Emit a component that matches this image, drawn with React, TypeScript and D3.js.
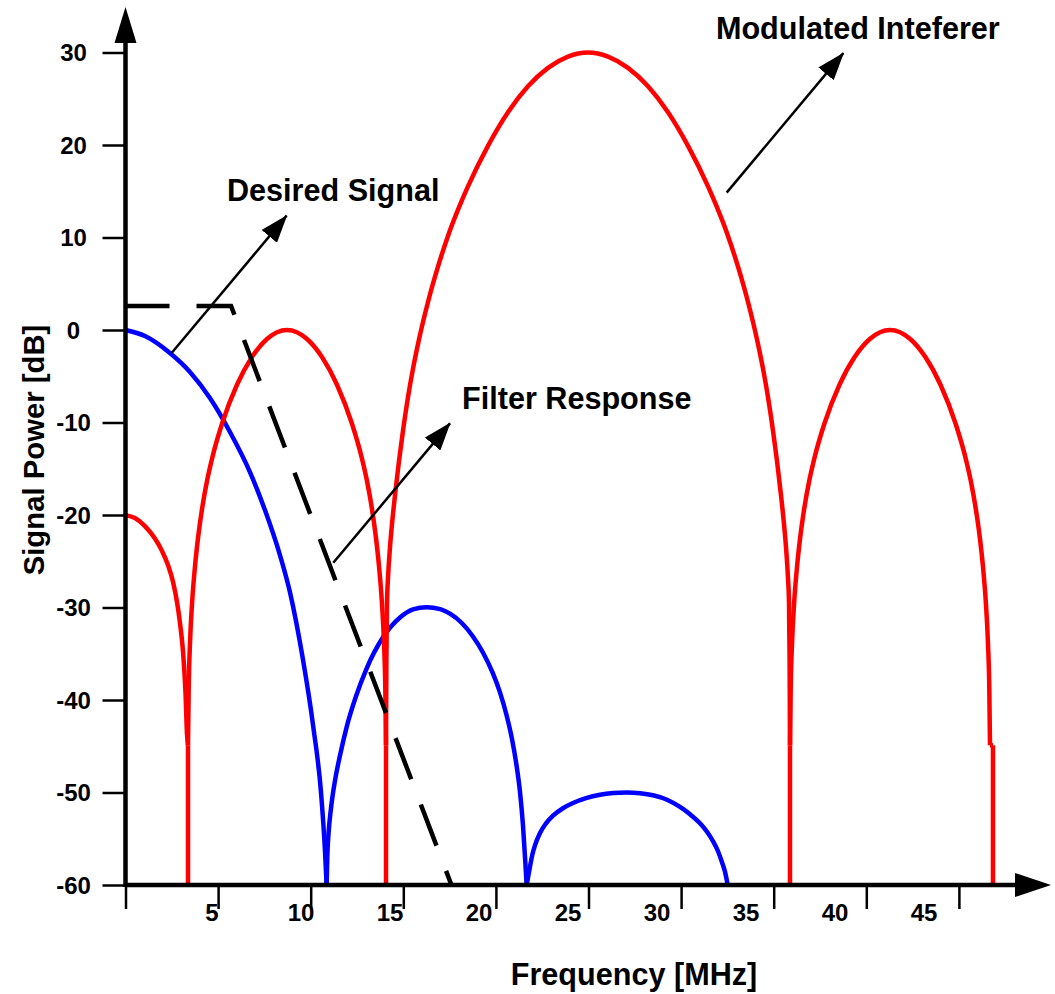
import React, { useEffect, useRef } from "react";
import * as d3 from "d3";

type Pt = [number, number];

// axis ticks
const freqTicks = [0, 5, 10, 15, 20, 25, 30, 35, 40, 45];
const freqLabels = [5, 10, 15, 20, 25, 30, 35, 40, 45];
const powerTicks = [30, 20, 10, 0, -10, -20, -30, -40, -50, -60];

// desired signal (blue), [MHz, dB] read per lobe
const desiredLobe0: Pt[] = [
  [0, 0], [1.05, -0.65], [2.4, -2.49], [3.48, -4.54], [4.56, -7.36], [5.64, -11.03],
  [6.72, -15.36], [7.53, -19.47], [8.34, -24.34], [8.88, -28.34], [9.57, -35.48],
  [10.14, -42.91], [10.56, -50.08], [10.77, -56.25], [10.86, -60],
];
const desiredLobe1: Pt[] = [
  [10.86, -60], [10.896, -56.99], [10.961, -54.51], [11.096, -51.7], [11.312, -48.71],
  [11.582, -46.0], [11.944, -42.9], [12.446, -39.6], [13.024, -36.57], [13.904, -33.22],
  [14.822, -31.09], [15.524, -30.21], [16.26, -29.96], [16.99, -30.18], [17.52, -30.67],
  [18.17, -31.7], [18.76, -33.13], [19.3, -34.86], [19.84, -37.13], [20.22, -39.18],
  [20.58, -41.68], [20.87, -44.23], [21.12, -47.15], [21.3, -49.92], [21.46, -53.49],
  [21.6, -57.92], [21.66, -60],
];
const desiredLobe2: Pt[] = [
  [21.66, -60], [21.841, -58.01], [21.976, -56.65], [22.111, -55.71], [22.381, -54.38],
  [22.705, -53.34], [23.083, -52.5], [23.623, -51.7], [24.163, -51.14], [24.865, -50.61],
  [25.621, -50.24], [26.323, -50.06], [27.063, -50.0], [27.781, -50.08], [28.483, -50.3],
  [29.239, -50.78], [29.941, -51.56], [30.481, -52.35], [31.021, -53.33], [31.399, -54.25],
  [31.723, -55.27], [31.993, -56.35], [32.209, -57.54], [32.371, -58.57], [32.516, -60],
];

// modulated interferer (red), [MHz, dB] read per lobe
const interfererLobe0: Pt[] = [
  [0, -20.01], [0.51, -20.33], [1.05, -21.2], [1.59, -22.55], [1.97, -23.88],
  [2.3, -25.44], [2.57, -27.28], [2.78, -29.4], [2.94, -31.64], [3.11, -34.88],
  [3.24, -39.21], [3.32, -43.65], [3.375, -44.89],
];
const interfererLobe1: Pt[] = [
  [3.375, -44.89], [3.413, -38.72], [3.483, -33.86], [3.591, -29.64], [3.753, -25.53],
  [3.915, -22.5], [4.131, -19.36], [4.401, -16.33], [4.671, -13.92], [5.211, -10.14],
  [6.02, -5.92], [6.83, -2.92], [7.64, -0.97], [8.72, 0], [9.8, -0.97], [10.61, -2.92],
  [11.42, -5.92], [12.23, -10.14], [12.77, -13.92], [13.04, -16.33], [13.31, -19.36],
  [13.526, -22.5], [13.688, -25.53], [13.85, -29.64], [13.958, -33.86], [14.028, -38.72],
  [14.066, -44.89],
];
const interfererLobe2: Pt[] = [
  [14.066, -44.89], [14.087, -35.69], [14.12, -29.42], [14.174, -26.83], [14.282, -23.47],
  [14.39, -20.98], [14.552, -17.85], [14.768, -14.17], [14.984, -10.88], [15.254, -7.25],
  [15.524, -4.18], [15.794, -1.51], [16.334, 3.03], [16.82, 6.49], [17.413, 10.17],
  [18.061, 13.52], [18.493, 15.52], [19.573, 19.9], [20.653, 23.53], [21.733, 26.34],
  [22.813, 28.34], [23.893, 29.56], [24.973, 30], [26.053, 29.56], [27.133, 28.34],
  [28.213, 26.34], [29.293, 23.53], [30.373, 19.9], [31.453, 15.52], [31.885, 13.52],
  [32.532, 10.17], [33.126, 6.49], [33.612, 3.03], [34.152, -1.51], [34.422, -4.18],
  [34.692, -7.25], [34.962, -10.88], [35.178, -14.17], [35.394, -17.85], [35.556, -20.98],
  [35.664, -23.47], [35.772, -26.83], [35.826, -29.42], [35.858, -35.69], [35.88, -44.89],
];
const interfererLobe3: Pt[] = [
  [35.881, -44.89], [35.919, -38.72], [35.99, -33.86], [36.099, -29.64], [36.263, -25.53],
  [36.426, -22.5], [36.644, -19.36], [36.917, -16.33], [37.19, -13.92], [37.735, -10.14],
  [38.553, -5.92], [39.371, -2.92], [40.19, -0.97], [41.285, 0], [42.371, -0.97],
  [43.189, -2.92], [44.006, -5.92], [44.824, -10.14], [45.37, -13.92], [45.643, -16.33],
  [45.915, -19.36], [46.134, -22.5], [46.297, -25.53], [46.461, -29.64], [46.57, -33.86],
  [46.641, -38.72], [46.679, -44.89],
];
// red nulls drawn as straight drops from -45 dB to the floor
const interfererNulls = [3.375, 14.066, 35.88, 46.84];

// filter response (dashed), [MHz, dB]
const filterResponse: Pt[] = [[0, 2.6], [5.7, 2.6], [17.6, -60]];

// annotations: label at [MHz, dB], arrow from -> to
const notes = [
  { text: "Desired Signal", at: [5.48, 13.98], from: [2.49, -2.49], to: [8.7, 12.36] },
  { text: "Filter Response", at: [18.17, -8.55], from: [11.22, -25.17], to: [17.52, -10.09] },
  { text: "Modulated Inteferer", at: [31.88, 31.44], from: [32.46, 14.85], to: [38.76, 29.93] },
];

const FONT = "'Liberation Sans', Arial, Helvetica, sans-serif";

function SpectrumChart() {
  const ref = useRef<SVGSVGElement | null>(null);

  useEffect(() => {
    if (!ref.current) return;
    const svg = d3.select(ref.current);
    svg.selectAll("*").remove();

    const x = d3.scaleLinear().domain([0, 50]).range([125.5, 1051.5]);
    const y = d3.scaleLinear().domain([-60, 30]).range([885, 52.5]);
    // tick labels in the original sit slightly left of their ticks
    const xLab = d3.scaleLinear().domain([0, 50]).range([123, 1013]);

    const defs = svg.append("defs");
    defs.append("marker")
      .attr("id", "head")
      .attr("markerUnits", "userSpaceOnUse")
      .attr("viewBox", "0 -10 28 20")
      .attr("refX", 27)
      .attr("refY", 0)
      .attr("markerWidth", 28)
      .attr("markerHeight", 20)
      .attr("orient", "auto")
      .append("path")
      .attr("d", "M0,-10L28,0L0,10Z")
      .attr("fill", "#000");

    const line = d3.line<Pt>()
      .x((d) => x(d[0]))
      .y((d) => y(d[1]))
      .curve(d3.curveMonotoneX);

    // blue desired signal
    [desiredLobe0, desiredLobe1, desiredLobe2].forEach((lobe) => {
      svg.append("path")
        .attr("d", line(lobe))
        .attr("fill", "none")
        .attr("stroke", "#0000ff")
        .attr("stroke-width", 4.5);
    });

    // red interferer
    [interfererLobe0, interfererLobe1, interfererLobe2, interfererLobe3].forEach((lobe) => {
      svg.append("path")
        .attr("d", line(lobe))
        .attr("fill", "none")
        .attr("stroke", "#ff0000")
        .attr("stroke-width", 4.5);
    });
    svg.selectAll("line.null")
      .data(interfererNulls)
      .join("line")
      .attr("class", "null")
      .attr("x1", (d) => x(d))
      .attr("x2", (d) => x(d))
      .attr("y1", y(-44.89))
      .attr("y2", y(-60))
      .attr("stroke", "#ff0000")
      .attr("stroke-width", 4.5);
    // small step at the last null
    svg.append("line")
      .attr("x1", x(46.679)).attr("x2", x(46.84))
      .attr("y1", y(-44.89)).attr("y2", y(-44.89))
      .attr("stroke", "#ff0000")
      .attr("stroke-width", 4.5);

    // dashed filter
    svg.append("path")
      .attr("d", d3.line<Pt>().x((d) => x(d[0])).y((d) => y(d[1]))(filterResponse))
      .attr("fill", "none")
      .attr("stroke", "#000")
      .attr("stroke-width", 4.5)
      .attr("stroke-dasharray", "44 27");

    // axes
    const xAxis = svg.append("g")
      .attr("transform", `translate(0,${y(-60)})`)
      .call(d3.axisBottom(x).tickValues(freqTicks).tickSize(24).tickFormat(() => ""));
    xAxis.select(".domain").remove();
    xAxis.selectAll(".tick line").attr("stroke", "#000").attr("stroke-width", 2.5);

    const yAxis = svg.append("g")
      .attr("transform", `translate(${x(0)},0)`)
      .call(d3.axisLeft(y).tickValues(powerTicks).tickSize(23).tickFormat(() => ""));
    yAxis.select(".domain").remove();
    yAxis.selectAll(".tick line").attr("stroke", "#000").attr("stroke-width", 2.5);

    svg.selectAll("text.ylab")
      .data(powerTicks)
      .join("text")
      .attr("class", "ylab")
      .attr("x", 73.5)
      .attr("y", (d) => y(d))
      .attr("dy", "0.36em")
      .attr("text-anchor", "middle")
      .attr("font-family", FONT)
      .attr("font-weight", "bold")
      .attr("font-size", 24)
      .text((d) => String(d));

    svg.selectAll("text.xlab")
      .data(freqLabels)
      .join("text")
      .attr("class", "xlab")
      .attr("x", (d) => xLab(d))
      .attr("y", 921)
      .attr("text-anchor", "middle")
      .attr("font-family", FONT)
      .attr("font-weight", "bold")
      .attr("font-size", 24)
      .text((d) => String(d));

    // axis lines with arrow heads
    svg.append("line")
      .attr("x1", x(0)).attr("x2", 1017)
      .attr("y1", y(-60)).attr("y2", y(-60))
      .attr("stroke", "#000").attr("stroke-width", 4.5);
    svg.append("path")
      .attr("d", `M1051,${y(-60)}L1015,${y(-60) - 12}L1015,${y(-60) + 12}Z`)
      .attr("fill", "#000");
    svg.append("line")
      .attr("x1", x(0)).attr("x2", x(0))
      .attr("y1", y(-60) + 2).attr("y2", 42)
      .attr("stroke", "#000").attr("stroke-width", 4.5);
    svg.append("path")
      .attr("d", `M${x(0)},7L${x(0) - 11},43L${x(0) + 11},43Z`)
      .attr("fill", "#000");

    // axis titles
    svg.append("text")
      .attr("x", 634)
      .attr("y", 985)
      .attr("text-anchor", "middle")
      .attr("font-family", FONT)
      .attr("font-weight", "bold")
      .attr("font-size", 30.6)
      .text("Frequency [MHz]");
    svg.append("text")
      .attr("transform", "translate(44,450) rotate(-90)")
      .attr("text-anchor", "middle")
      .attr("font-family", FONT)
      .attr("font-weight", "bold")
      .attr("font-size", 29.3)
      .text("Signal Power [dB]");

    // annotations
    notes.forEach((n) => {
      svg.append("line")
        .attr("x1", x(n.from[0])).attr("y1", y(n.from[1]))
        .attr("x2", x(n.to[0])).attr("y2", y(n.to[1]))
        .attr("stroke", "#000")
        .attr("stroke-width", 2.5)
        .attr("marker-end", "url(#head)");
      svg.append("text")
        .attr("x", x(n.at[0]))
        .attr("y", y(n.at[1]))
        .attr("font-family", FONT)
        .attr("font-weight", "bold")
        .attr("font-size", 30.6)
        .text(n.text);
    });
  }, []);

  return (
    <svg
      ref={ref}
      width={1055}
      height={994}
      style={{ position: "absolute", left: 0, top: 0, background: "#fff" }}
    />
  );
}

export default function App() {
  return <SpectrumChart />;
}
